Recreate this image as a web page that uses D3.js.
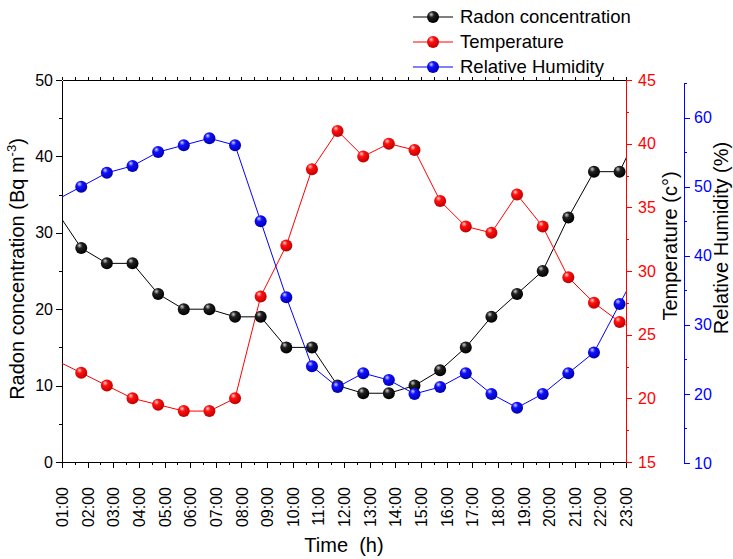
<!DOCTYPE html>
<html>
<head>
<meta charset="utf-8">
<script src="https://cdn.jsdelivr.net/npm/d3@7"></script>
<style>
  body { margin: 0; background: #fff; }
  svg { font-family: "Liberation Sans", Arial, sans-serif; }
  .axis path, .axis line { shape-rendering: crispEdges; }
</style>
</head>
<body>
<svg id="chart" width="733" height="559"></svg>
<script>
// hours (points are plotted a quarter hour before each tick, first and last fall outside)
const hours = [0.75, 1.75, 2.75, 3.75, 4.75, 5.75, 6.75, 7.75, 8.75, 9.75, 10.75, 11.75,
               12.75, 13.75, 14.75, 15.75, 16.75, 17.75, 18.75, 19.75, 20.75, 21.75, 22.75, 23.75]
const radon = [33, 28, 26, 26, 22, 20, 20, 19, 19, 15, 15, 10,
               9, 9, 10, 12, 15, 19, 22, 25, 32, 38, 38, 45]
const temperature = [23, 22, 21, 20, 19.5, 19, 19, 20, 28, 32, 38, 41,
                     39, 40, 39.5, 35.5, 33.5, 33, 36, 33.5, 29.5, 27.5, 26, 25]
const humidity = [48, 50, 52, 53, 55, 56, 57, 56, 45, 34, 24, 21,
                  23, 22, 20, 21, 23, 20, 18, 20, 23, 26, 33, 40]
const tickHours = d3.range(1, 24)
const tickLabels = tickHours.map(h => String(h).padStart(2, "0") + ":00")

const svg = d3.select("#chart")
const pLeft = 62, pRight = 626, pTop = 80, pBottom = 462

let xScale = d3.scaleLinear().domain([1, 23]).range([pLeft, pRight])
let yRadon = d3.scaleLinear().domain([0, 50]).range([pBottom, pTop])
let yTemp = d3.scaleLinear().domain([15, 45]).range([pBottom, pTop])
let yHum = d3.scaleLinear().domain([10, 65]).range([463, 83])

// ball gradients
const defs = svg.append("defs")
function ball(id, light, mid, dark) {
    let g = defs.append("radialGradient").attr("id", id)
        .attr("cx", "40%").attr("cy", "35%").attr("r", "65%").attr("fx", "35%").attr("fy", "28%")
    g.append("stop").attr("offset", "0%").attr("stop-color", light)
    g.append("stop").attr("offset", "35%").attr("stop-color", mid)
    g.append("stop").attr("offset", "100%").attr("stop-color", dark)
}
ball("gBlack", "#d0d0d0", "#202020", "#000")
ball("gRed", "#ffd0d0", "#ff1010", "#c00000")
ball("gBlue", "#d0d0ff", "#1010ff", "#0000b0")

defs.append("clipPath").attr("id", "plotClip")
    .append("rect").attr("x", pLeft).attr("y", pTop - 10).attr("width", pRight - pLeft).attr("height", pBottom - pTop + 20)

// x axis
let xAxis = svg.append("g").attr("class", "axis").attr("transform", `translate(0,${pBottom})`)
    .call(d3.axisBottom(xScale).tickValues(tickHours).tickSize(6).tickFormat((d, i) => tickLabels[i]))
xAxis.select(".domain").attr("stroke-width", 1.5)
xAxis.selectAll("text")
    .attr("transform", "rotate(-90)")
    .attr("x", -25).attr("y", 0).attr("dy", "0.35em")
    .attr("text-anchor", "end")
    .style("font-size", "16px").attr("fill", "#000")
svg.append("g").attr("class", "axis").attr("transform", `translate(0,${pBottom})`)
    .call(d3.axisBottom(xScale).tickValues(d3.range(1.5, 23, 1)).tickSize(3).tickFormat(""))
    .select(".domain").remove()

// top frame with small ticks
let topAxis = svg.append("g").attr("class", "axis").attr("transform", `translate(0,${pTop})`)
    .call(d3.axisTop(xScale).tickValues(d3.range(1, 23.01, 0.5)).tickSize(3).tickSizeOuter(0).tickFormat(""))
topAxis.select(".domain").attr("stroke-width", 1.5)

// left axis
let yAxisL = svg.append("g").attr("class", "axis").attr("transform", `translate(${pLeft},0)`)
    .call(d3.axisLeft(yRadon).tickValues([0, 10, 20, 30, 40, 50]).tickSize(6).tickSizeOuter(0))
yAxisL.select(".domain").attr("stroke-width", 1.5)
yAxisL.selectAll("text").style("font-size", "16px").attr("fill", "#000").attr("x", -9)
svg.append("g").attr("class", "axis").attr("transform", `translate(${pLeft},0)`)
    .call(d3.axisLeft(yRadon).tickValues([5, 15, 25, 35, 45]).tickSize(3).tickFormat(""))
    .select(".domain").remove()

// temperature axis (red)
let yAxisT = svg.append("g").attr("class", "axis").attr("transform", `translate(${pRight},0)`)
    .call(d3.axisRight(yTemp).tickValues([15, 20, 25, 30, 35, 40, 45]).tickSize(6).tickSizeOuter(0))
yAxisT.selectAll("path, line").attr("stroke", "red")
yAxisT.select(".domain").attr("stroke-width", 1.5)
yAxisT.selectAll("text").style("font-size", "16px").attr("fill", "red").attr("x", 12)
let tMinor = svg.append("g").attr("class", "axis").attr("transform", `translate(${pRight},0)`)
    .call(d3.axisRight(yTemp).tickValues([17.5, 22.5, 27.5, 32.5, 37.5, 42.5]).tickSize(3).tickFormat(""))
tMinor.select(".domain").remove()
tMinor.selectAll("line").attr("stroke", "red")

// humidity axis (blue)
let hx = 684
let yAxisH = svg.append("g").attr("class", "axis").attr("transform", `translate(${hx},0)`)
    .call(d3.axisRight(yHum).tickValues([10, 20, 30, 40, 50, 60]).tickSize(6).tickSizeOuter(0))
yAxisH.selectAll("path, line").attr("stroke", "blue")
yAxisH.select(".domain").attr("stroke-width", 1.5)
yAxisH.selectAll("text").style("font-size", "16px").attr("fill", "blue").attr("x", 10)
let hMinor = svg.append("g").attr("class", "axis").attr("transform", `translate(${hx},0)`)
    .call(d3.axisRight(yHum).tickValues([15, 25, 35, 45, 55, 65]).tickSize(3).tickFormat(""))
hMinor.select(".domain").remove()
hMinor.selectAll("line").attr("stroke", "blue")

// series
const series = [
    {name: "Radon concentration", values: radon, scale: yRadon, color: "#000", grad: "gBlack"},
    {name: "Temperature", values: temperature, scale: yTemp, color: "red", grad: "gRed"},
    {name: "Relative Humidity", values: humidity, scale: yHum, color: "blue", grad: "gBlue"}
]
let plot = svg.append("g").attr("clip-path", "url(#plotClip)")
series.forEach(s => {
    let line = d3.line().x((d, i) => xScale(hours[i])).y(d => s.scale(d))
    plot.append("path").datum(s.values)
        .attr("d", line).attr("fill", "none").attr("stroke", s.color).attr("stroke-width", 1)
})
series.forEach(s => {
    plot.selectAll(null).data(s.values).enter()
        .append("circle")
        .attr("cx", (d, i) => xScale(hours[i]))
        .attr("cy", d => s.scale(d))
        .attr("r", 6)
        .style("fill", `url(#${s.grad})`)
})

// axis titles
svg.append("text").attr("x", 344).attr("y", 552).attr("text-anchor", "middle")
    .style("font-size", "20px").style("white-space", "pre").text("Time  (h)")
let yl = svg.append("text").attr("transform", `translate(24,${269}) rotate(-90)`)
    .attr("text-anchor", "middle").style("font-size", "20px")
yl.append("tspan").text("Radon concentration (Bq m")
yl.append("tspan").attr("dy", -8).style("font-size", "13px").text("-3")
yl.append("tspan").attr("dy", 8).text(")")
svg.append("text").attr("transform", `translate(677,246) rotate(-90)`)
    .attr("text-anchor", "middle").style("font-size", "20px").text("Temperature (c°)")
svg.append("text").attr("transform", `translate(728,238) rotate(-90)`)
    .attr("text-anchor", "middle").style("font-size", "20px").text("Relative Humidity (%)")

// legend
let legend = svg.append("g")
series.forEach((s, i) => {
    let y = 17 + i * 25
    legend.append("line").attr("x1", 413).attr("x2", 453).attr("y1", y).attr("y2", y)
        .attr("stroke", s.color).attr("stroke-width", 1)
    legend.append("circle").attr("cx", 433).attr("cy", y).attr("r", 6).style("fill", `url(#${s.grad})`)
    legend.append("text").attr("x", 460).attr("y", y).attr("dy", "0.35em")
        .style("font-size", "18.5px").text(s.name)
})
</script>
</body>
</html>
